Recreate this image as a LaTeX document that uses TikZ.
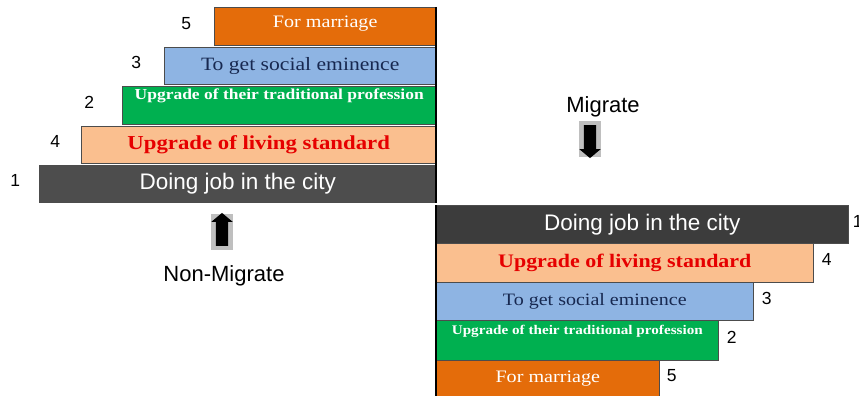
\documentclass[tikz,border=0pt]{standalone}
\usepackage{fontspec}
\setmainfont{Liberation Serif}
\setsansfont{Liberation Sans}
\newfontfamily\barserif[FakeStretch=1.15]{Liberation Serif}
\usetikzlibrary{positioning,shapes.arrows}

\definecolor{marriageC}{RGB}{228,108,10}
\definecolor{eminenceC}{RGB}{142,180,227}
\definecolor{professionC}{RGB}{0,176,80}
\definecolor{livingC}{RGB}{250,191,143}
\definecolor{jobC}{RGB}{77,77,77}
\definecolor{jobdarkC}{RGB}{60,60,60}
\definecolor{navyC}{RGB}{23,40,80}
\definecolor{redC}{RGB}{230,0,0}

\tikzset{
  bar/.style={draw=black!70,line width=0.6pt,inner sep=0pt,minimum height=38pt},
  num/.style={font=\sffamily\fontsize{17.5}{17.5}\selectfont,inner sep=1pt},
  tag/.style={font=\sffamily\fontsize{22}{22}\selectfont},
  arrbox/.style={fill=black!25,minimum width=22pt,minimum height=36pt,inner sep=0pt},
  blockarr/.style={single arrow,fill=black,inner sep=6pt,minimum height=33pt,
    single arrow head extend=4.5pt,single arrow tip angle=100},
  divider/.style={line width=2.2pt,black},
  liftup/.style={text depth=23pt},
  jobtxt/.style={font=\sffamily\fontsize{22.5}{22.5}\selectfont,text=white},
  marrtxt/.style={font=\barserif\fontsize{17.5}{17.5}\selectfont,text=white},
  emintxt/.style={font=\barserif\fontsize{#1}{#1}\selectfont,text=navyC},
  proftxt/.style={font=\barserif\bfseries\fontsize{#1}{#1}\selectfont,text=white},
  livtxt/.style={font=\barserif\bfseries\fontsize{#1}{#1}\selectfont,text=redC}
}

\begin{document}
\begin{tikzpicture}[x=1pt,y=-1pt]
  % Page window
  \useasboundingbox (0,0) rectangle (859,396);

  % Non-migrate side, ranks read from the bottom
  \node[bar,fill=marriageC,minimum width=221pt,anchor=north east,marrtxt,text depth=10pt] (lmar) at (436,7) {For marriage};
  \node[bar,fill=eminenceC,minimum width=271pt,minimum height=37pt,anchor=north east,emintxt=18.8] (lemi) at (436,47) {To get social eminence};
  \node[bar,fill=professionC,minimum width=313pt,anchor=north east,proftxt=15.2,liftup] (lpro) at (436,86) {Upgrade of their traditional profession};
  \node[bar,fill=livingC,minimum width=354pt,minimum height=37pt,anchor=north east,livtxt=19.8] (lliv) at (436,126) {Upgrade of living standard};
  \node[bar,fill=jobC,minimum width=396pt,minimum height=37pt,anchor=north east,jobtxt] (ljob) at (436,165) {Doing job in the city};

  \node[num,left=22pt of lmar,yshift=3pt] (lmarn) {5};
  \node[num,left=22pt of lemi,yshift=3pt] (lemin) {3};
  \node[num,left=27pt of lpro,yshift=3pt] (lpron) {2};
  \node[num,left=20pt of lliv,yshift=3pt] (llivn) {4};
  \node[num,left=18pt of ljob,yshift=3pt] (ljobn) {1};

  % Migrate side, ranks read from the top
  \node[bar,fill=jobdarkC,minimum width=412pt,anchor=north west,jobtxt] (rjob) at (436,205) {Doing job in the city};
  \node[bar,fill=livingC,minimum width=377pt,minimum height=39pt,anchor=north west,livtxt=19.1] (rliv) at (436,243) {Upgrade of living standard};
  \node[bar,fill=eminenceC,minimum width=317pt,anchor=north west,emintxt=17.4] (remi) at (436,282) {To get social eminence};
  \node[bar,fill=professionC,minimum width=282pt,minimum height=40pt,anchor=north west,proftxt=13.2,text depth=21pt] (rpro) at (436,320) {Upgrade of their traditional profession};
  \node[bar,fill=marriageC,minimum width=223pt,minimum height=36pt,anchor=north west,marrtxt] (rmar) at (436,360) {For marriage};

  \node[num,right=3pt of rjob,yshift=3pt] (rjobn) {1};
  \node[num,right=7pt of rliv,yshift=3pt] (rlivn) {4};
  \node[num,right=7pt of remi,yshift=3pt] (remin) {3};
  \node[num,right=7pt of rpro,yshift=3pt] (rpron) {2};
  \node[num,right=6pt of rmar,yshift=3pt] (rmarn) {5};

  % Middle divider
  \draw[divider] (lmar.north east) -- (ljob.south east);
  \draw[divider] (rjob.north west) -- (rmar.south west);

  % Arrows and their captions
  \node[tag] (mig) at (603,107) {Migrate};
  \node[arrbox] (migbox) at (590,139) {};
  \node[blockarr,shape border rotate=270] (migarr) at (migbox) {};

  \node[arrbox] (nonbox) at (222,232) {};
  \node[blockarr,shape border rotate=90] (nonarr) at (nonbox) {};
  \node[tag] (non) at (224,276) {Non-Migrate};
\end{tikzpicture}
\end{document}
